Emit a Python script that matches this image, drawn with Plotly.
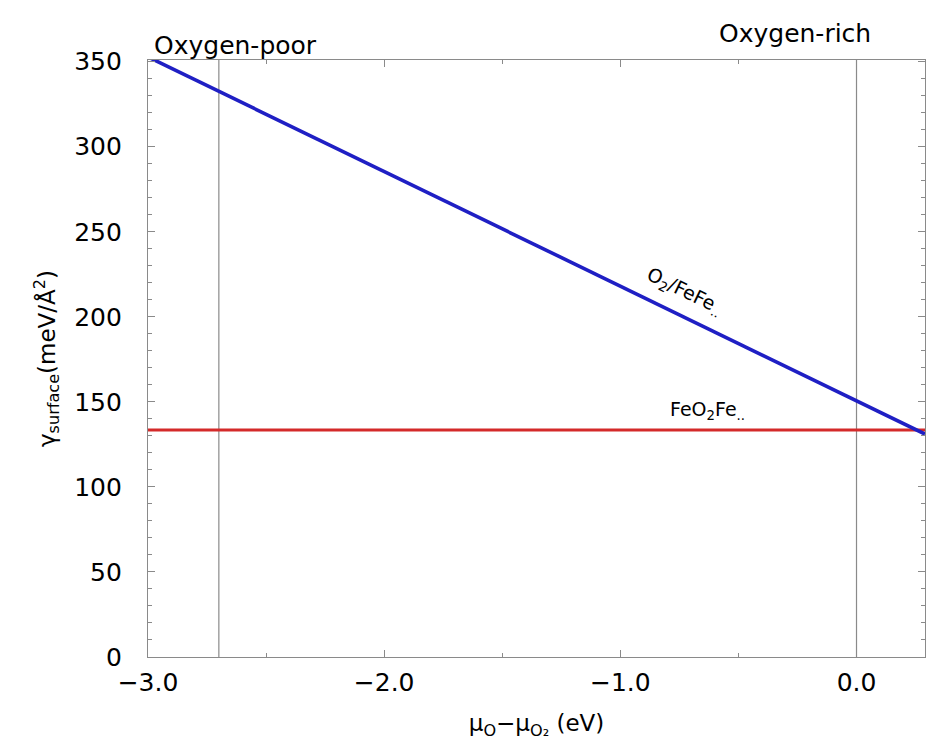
import plotly.graph_objects as go

# Oxygen chemical potential relative to O2 (eV)
mu_o = [-3.0, 0.29]
# Surface energies (meV/Å^2) of the two terminations
gamma_o2_fe = [352.8, 131.1]
gamma_feo2_fe = [133.5, 133.5]

# Limits of the allowed chemical potential range
mu_limits = [-2.70, 0.0]

x_ticks = [-3.0, -2.0, -1.0, 0.0]
y_ticks = [0, 50, 100, 150, 200, 250, 300, 350]

font_family = "DejaVu Sans, Liberation Sans, sans-serif"
grey = "#8a8a8a"

fig = go.Figure()

for m in mu_limits:
    fig.add_trace(go.Scatter(x=[m, m], y=[0, 351], mode="lines",
                             line=dict(color=grey, width=1.2),
                             hoverinfo="skip", showlegend=False))

fig.add_trace(go.Scatter(x=mu_o, y=gamma_feo2_fe, mode="lines",
                         line=dict(color="#d42a2a", width=3),
                         showlegend=False))
fig.add_trace(go.Scatter(x=mu_o, y=gamma_o2_fe, mode="lines",
                         line=dict(color="#1f1fc4", width=3.6),
                         showlegend=False))

axis_common = dict(
    showgrid=False, zeroline=False, showline=True, linecolor=grey, linewidth=1.2,
    mirror="ticks", ticks="inside", tickcolor=grey, ticklen=7, tickwidth=1.2,
    tickfont=dict(family=font_family, size=25, color="black"),
)

fig.update_xaxes(
    range=[-3.0, 0.29], tickvals=x_ticks, tickformat=".1f",
    minor=dict(dtick=0.5, tick0=-3.0, ticks="inside", ticklen=4, tickcolor=grey),
    ticklabelstandoff=3,
    title=dict(text="μ<sub>O</sub>−μ<sub>O₂</sub> (eV)",
               font=dict(family=font_family, size=23, color="black"), standoff=18),
    **axis_common,
)
fig.update_yaxes(
    range=[0, 351], tickvals=y_ticks,
    minor=dict(dtick=10, tick0=0, ticks="inside", ticklen=4, tickcolor=grey),
    ticklabelstandoff=20,
    title=dict(text="γ<sub>surface</sub>(meV/Å<sup>2</sup>)",
               font=dict(family=font_family, size=23, color="black"), standoff=12),
    **axis_common,
)

fig.add_annotation(x=-3.0, y=1.0, xref="x", yref="paper", yshift=-2, xshift=4,
                   text="Oxygen-poor", showarrow=False, xanchor="left", yanchor="bottom",
                   font=dict(family=font_family, size=25, color="black"))
fig.add_annotation(x=-0.26, y=1.0, xref="x", yref="paper", yshift=10,
                   text="Oxygen-rich", showarrow=False, xanchor="center", yanchor="bottom",
                   font=dict(family=font_family, size=25, color="black"))
fig.add_annotation(x=-0.73, y=215, text="O<sub>2</sub>/FeFe<sub>..</sub>",
                   showarrow=False, textangle=26, xanchor="center", yanchor="middle",
                   font=dict(family=font_family, size=19, color="black"))
fig.add_annotation(x=-0.80, y=145, text="FeO<sub>2</sub>Fe<sub>..</sub>",
                   showarrow=False, xanchor="left", yanchor="middle",
                   font=dict(family=font_family, size=19, color="black"))

fig.update_layout(
    width=927, height=752,
    margin=dict(l=148, r=2, t=60, b=95),
    paper_bgcolor="white", plot_bgcolor="white",
    font=dict(family=font_family),
)

fig.write_html("out.html")
